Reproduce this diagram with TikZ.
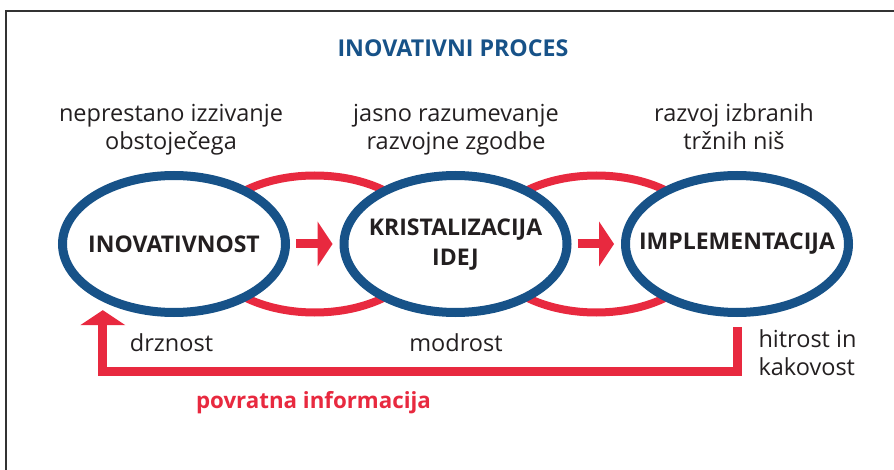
\documentclass[tikz,border=0pt]{standalone}
\usepackage{fontspec}
\setmainfont{Open Sans}
\usetikzlibrary{arrows.meta,positioning,calc,shapes.geometric,backgrounds}
\definecolor{ProcBlue}{HTML}{175288}
\definecolor{ProcRed}{HTML}{E8293F}
\definecolor{ProcInk}{HTML}{231F20}
\definecolor{ProcFrame}{HTML}{333333}

\begin{document}
\begin{tikzpicture}[x=1pt,y=-1pt,
    stage/.style={ellipse,draw=ProcBlue,fill=white,line width=9pt,minimum width=223pt,minimum height=137pt,inner sep=0pt},
    ring/.style={ellipse,draw=ProcRed,line width=8pt,minimum width=223pt,minimum height=137pt,inner sep=0pt},
    stagename/.style={font=\fontsize{23}{30}\selectfont\bfseries,text=ProcInk,align=center},
    note/.style={font=\fontsize{23.5}{28}\selectfont,text=ProcInk,align=center},
    pusharrow/.style={draw=ProcRed,line width=9pt,-{Triangle[length=15pt,width=45pt,line width=0pt]}}]
    \useasboundingbox (0,0) rectangle (894,470);
    \draw[ProcFrame,line width=2pt] (6,470) -- (6,11) -- (894,11);
    \node[font=\fontsize{23.2}{26}\selectfont\bfseries,text=ProcBlue,anchor=base] (title) at (453,57) {INOVATIVNI PROCES};
    % the three stages
    \node[stage] (ino) at (174,244) {};
    \node[stage,right=49.5pt of ino] (kri) {};
    \node[stage,right=49.5pt of kri] (imp) {};
    \begin{scope}[on background layer]
      \node[ring] (link1) at ($(ino)!0.5!(kri)$) {};
      \node[ring] (link2) at ($(kri)!0.5!(imp)$) {};
    \end{scope}
    \node[stagename] at (ino) {INOVATIVNOST};
    \node[stagename] at ([yshift=-1pt]kri) {KRISTALIZACIJA\\IDEJ};
    \node[stagename] at (imp) {IMPLEMENTACIJA};
    \draw[pusharrow,shorten <=6pt,shorten >=7pt] (ino) -- (kri);
    \draw[pusharrow,shorten <=6pt,shorten >=7pt] (kri) -- (imp);
    % notes above and below
    \node[note,anchor=base] (n1) at (171,150) {neprestano izzivanje\\obstoječega};
    \node[note,anchor=base] (n2) at (456,150) {jasno razumevanje\\razvojne zgodbe};
    \node[note,anchor=base] (n3) at (734,150) {razvoj izbranih\\tržnih niš};
    \node[note,anchor=base] (d1) at (171.5,351) {drznost};
    \node[note,anchor=base] (d2) at (456,351) {modrost};
    \node[note,align=left,anchor=base west] (d3) at (755,375) {hitrost in\\kakovost};
    % feedback loop
    \draw[pusharrow,shorten >=8.5pt] ([yshift=-10pt]imp.south) -- ++(0,44.5) -| (ino.219);
    \node[font=\fontsize{22.3}{26}\selectfont\bfseries,text=ProcRed,anchor=base] (fb) at (313.5,408) {povratna informacija};
\end{tikzpicture}
\end{document}
